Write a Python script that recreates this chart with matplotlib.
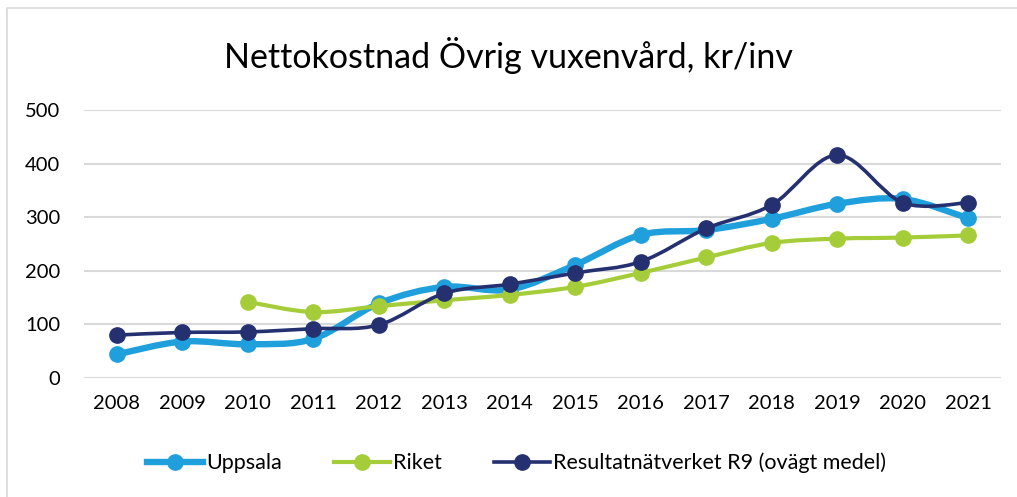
import numpy as np
import matplotlib
matplotlib.use("Agg")
import matplotlib.pyplot as plt
from matplotlib.path import Path
from matplotlib.patches import PathPatch, Rectangle
from matplotlib.lines import Line2D

plt.rcParams['font.family'] = ['Lato', 'DejaVu Sans']

years = ["2008", "2009", "2010", "2011", "2012", "2013", "2014",
         "2015", "2016", "2017", "2018", "2019", "2020", "2021"]
uppsala = [44, 68, 63, 73, 139, 170, 165, 211, 267, 276, 297, 325, 334, 298]
riket = [None, None, 142, 123, 134, 145, 155, 170, 196, 225, 252, 260, 262, 266]
r9 = [80, 85, 86, 92, 99, 158, 175, 196, 217, 279, 323, 416, 327, 327]
series_names = ["Uppsala", "Riket", "Resultatnätverket R9 (ovägt medel)"]
title = "Nettokostnad Övrig vuxenvård, kr/inv"

colors = ["#1F9FDB", "#A5CD39", "#253071"]
lws = [4.6, 3.0, 2.6]
msize = 11


def smooth_path(xs, ys):
    pts = np.column_stack([xs, ys]).astype(float)
    n = len(pts)
    verts = [pts[0]]
    codes = [Path.MOVETO]
    for i in range(n - 1):
        p0 = pts[i - 1] if i > 0 else pts[i]
        p1 = pts[i]
        p2 = pts[i + 1]
        p3 = pts[i + 2] if i + 2 < n else pts[i + 1]
        c1 = p1 + (p2 - p0) / 6.0
        c2 = p2 - (p3 - p1) / 6.0
        verts += [c1, c2, p2]
        codes += [Path.CURVE4] * 3
    return Path(verts, codes)


fig = plt.figure(figsize=(10.17, 4.97), dpi=100)
fig.patches.append(Rectangle((7 / 1017, -0.1), 1.2, (497 - 8) / 497 + 0.1,
                             transform=fig.transFigure, fill=False,
                             edgecolor="#D9D9D9", linewidth=1.2, zorder=0))
ax = fig.add_axes([84 / 1017, (497 - 378) / 497, (1001 - 84) / 1017, (378 - 110) / 497])

x = np.arange(len(years))
handles = []
for k, (vals, name) in enumerate(zip([uppsala, riket, r9], series_names)):
    xs = [xi for xi, v in zip(x, vals) if v is not None]
    ys = [v for v in vals if v is not None]
    path = smooth_path(xs, ys)
    ax.add_patch(PathPatch(path, facecolor="none", edgecolor=colors[k],
                           linewidth=lws[k], capstyle="round", joinstyle="round",
                           zorder=3 + k))
    ax.plot(xs, ys, linestyle="none", marker="o", markersize=msize,
            color=colors[k], zorder=3.5 + k)
    handles.append(Line2D([], [], color=colors[k], linewidth=lws[k],
                          marker="o", markersize=msize))

ax.set_xlim(-0.5, len(years) - 0.5)
ax.set_ylim(0, 500)
ax.set_yticks([0, 100, 200, 300, 400, 500])
ax.set_xticks(x)
ax.set_xticklabels(years)
ax.grid(axis="y", color="#D9D9D9", linewidth=1.5)
ax.set_axisbelow(True)
for s in ax.spines.values():
    s.set_visible(False)
ax.tick_params(axis="both", length=0, labelsize=14.5, colors="#000000")
ax.tick_params(axis="y", pad=17)
ax.tick_params(axis="x", pad=12)

fig.text(0.5, (497 - 55) / 497, title, ha="center", va="center",
         fontsize=24.5, color="#000000")

fig.legend(handles, series_names, loc="center", bbox_to_anchor=(0.508, (497 - 463) / 497),
           ncol=3, frameon=False, fontsize=15.5, handlelength=2.6,
           handletextpad=0.15, columnspacing=2.4, numpoints=1)

fig.savefig("out.png", dpi=100)
